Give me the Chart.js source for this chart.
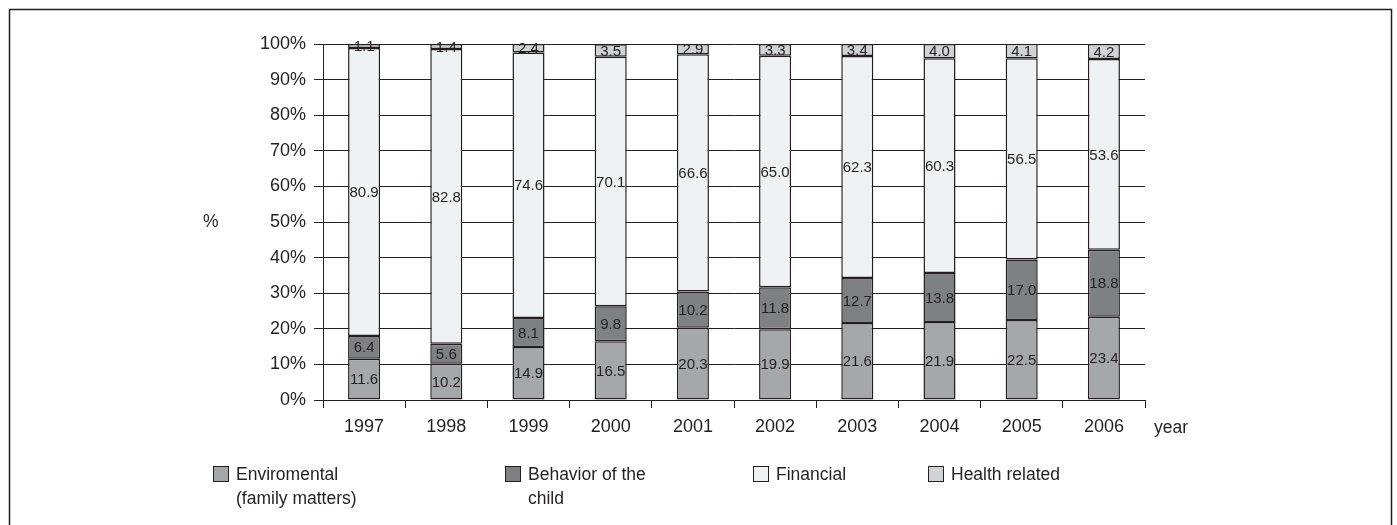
<!DOCTYPE html>
<html>
<head>
<meta charset="utf-8">
<script src="https://cdn.jsdelivr.net/npm/chart.js@4/dist/chart.umd.min.js"></script>
<style>
    html, body { margin: 0; padding: 0; background: #fff; }
    canvas { display: block; }
</style>
</head>
<body>
<canvas id="reasonsChart" width="1397" height="525"></canvas>
<script>
// data (shares in %)
const years = ['1997', '1998', '1999', '2000', '2001', '2002', '2003', '2004', '2005', '2006'];
const environmental = [11.6, 10.2, 14.9, 16.5, 20.3, 19.9, 21.6, 21.9, 22.5, 23.4];
const behavior = [6.4, 5.6, 8.1, 9.8, 10.2, 11.8, 12.7, 13.8, 17.0, 18.8];
const financial = [80.9, 82.8, 74.6, 70.1, 66.6, 65.0, 62.3, 60.3, 56.5, 53.6];
const health = [1.1, 1.4, 2.4, 3.5, 2.9, 3.3, 3.4, 4.0, 4.1, 4.2];
const seriesNames = [['Enviromental', '(family matters)'], ['Behavior of the', 'child'], ['Financial'], ['Health related']];

const INK = '#231f20';
const FONT = "'Liberation Sans', Arial, sans-serif";
const fills = ['#a6a7a9', '#7f8082', '#f0f1f3', '#d1d2d4'];

// legend slots (x of the square)
const legendX = [213, 505, 753, 928];

const makeSet = (label, data, i) => ({
    label: label.join(' '),
    data: data,
    backgroundColor: fills[i],
    borderColor: INK,
    borderWidth: 1.5,
    borderSkipped: false,
    barPercentage: 0.39,
    categoryPercentage: 1
});

// values written in the middle of each segment
const segmentLabels = {
    id: 'segmentLabels',
    afterDatasetsDraw(chart) {
        const ctx = chart.ctx;
        ctx.save();
        ctx.font = '15px ' + FONT;
        ctx.fillStyle = INK;
        ctx.textAlign = 'center';
        ctx.textBaseline = 'middle';
        chart.data.datasets.forEach((ds, i) => {
            chart.getDatasetMeta(i).data.forEach((bar, j) => {
                ctx.fillText(ds.data[j].toFixed(1), bar.x, (bar.y + bar.base) / 2 + 1);
            });
        });
        ctx.restore();
    }
};

// frame, axis titles and the two-line legend
const decorations = {
    id: 'decorations',
    afterDraw(chart) {
        const ctx = chart.ctx;
        ctx.save();
        ctx.strokeStyle = INK;
        ctx.lineWidth = 1.5;
        ctx.strokeRect(9.5, 9.5, 1382, 540);

        ctx.fillStyle = INK;
        ctx.font = '17.5px ' + FONT;
        ctx.textBaseline = 'middle';
        ctx.textAlign = 'left';
        ctx.fillText('%', 203, chart.scales.y.getPixelForValue(50));
        ctx.fillText('year', 1154, 428);

        seriesNames.forEach((lines, i) => {
            const x = legendX[i];
            ctx.fillStyle = fills[i];
            ctx.fillRect(x + 0.5, 466.5, 15, 15);
            ctx.lineWidth = 1;
            ctx.strokeRect(x + 0.5, 466.5, 15, 15);
            ctx.fillStyle = INK;
            lines.forEach((t, k) => ctx.fillText(t, x + 23, 475 + k * 24));
        });
        ctx.restore();
    }
};

new Chart(document.getElementById('reasonsChart'), {
    type: 'bar',
    data: {
        labels: years,
        datasets: [
            makeSet(seriesNames[0], environmental, 0),
            makeSet(seriesNames[1], behavior, 1),
            makeSet(seriesNames[2], financial, 2),
            makeSet(seriesNames[3], health, 3)
        ]
    },
    options: {
        responsive: false,
        animation: false,
        layout: { padding: { top: 44, right: 252, left: 0, bottom: 0 } },
        scales: {
            x: {
                stacked: true,
                grid: { drawOnChartArea: false, offset: true, tickLength: 8, color: INK, lineWidth: 1 },
                border: { display: true, color: INK, width: 1 },
                ticks: { color: INK, font: { family: FONT, size: 18 }, padding: 8, maxRotation: 0 },
                afterFit: s => { s.height = 125; }
            },
            y: {
                stacked: true,
                min: 0,
                max: 100,
                grid: { color: INK, lineWidth: 1, tickLength: 9 },
                border: { display: true, color: INK, width: 1 },
                ticks: {
                    stepSize: 10,
                    color: INK,
                    padding: 8,
                    font: { family: FONT, size: 18 },
                    callback: v => v + '%'
                },
                afterFit: s => { s.width = 323; }
            }
        },
        plugins: {
            legend: { display: false },
            tooltip: { enabled: false }
        }
    },
    plugins: [segmentLabels, decorations]
});
</script>
</body>
</html>
